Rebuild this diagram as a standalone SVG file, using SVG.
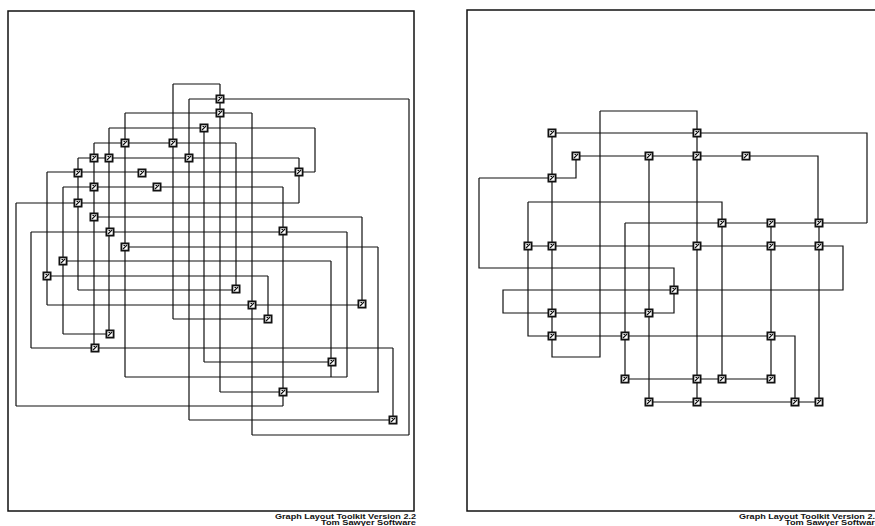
<svg xmlns="http://www.w3.org/2000/svg" width="875" height="526" viewBox="0 0 875 526">
<style>
.frame{fill:none;stroke:#111;stroke-width:1.5}
.conn{fill:none;stroke:#111;stroke-width:1.2}
.lbl{font-family:"Liberation Sans",Arial,sans-serif;font-weight:bold;font-size:7px;fill:#111}
</style>
<defs>
<g id="nd">
<rect x="-4.5" y="-4.5" width="9" height="9" fill="#111"/>
<rect x="-2.7" y="-2.7" width="5.4" height="5.4" fill="#fff"/>
<path d="M-2 2L2-2M-1.5-1.5h1.5" stroke="#111" stroke-width="1.1" fill="none"/>
</g>
</defs>
<rect width="875" height="526" fill="#fff"/>
<rect class="frame" x="8" y="11" width="406" height="500"/>
<rect class="frame" x="467" y="10" width="420" height="501"/>
<text class="lbl" x="275" y="518.5" textLength="141" lengthAdjust="spacingAndGlyphs">Graph Layout Toolkit Version 2.2</text>
<text class="lbl" x="321" y="524.5" textLength="95" lengthAdjust="spacingAndGlyphs">Tom Sawyer Software</text>
<text class="lbl" x="739" y="518.5" textLength="141" lengthAdjust="spacingAndGlyphs">Graph Layout Toolkit Version 2.2</text>
<text class="lbl" x="785" y="524.5" textLength="95" lengthAdjust="spacingAndGlyphs">Tom Sawyer Software</text>
<g id="connectors">
<path class="conn" d="M173 84H220M189 99H409M125 113H252M109 128H315M94 143H236M78 158H299M47 172H315M63 187H283M16 203H299M94 217H362M31 232H347M125 247H378M63 261H331M47 276H268M78 290H236M47 305H362M173 319H268M63 334H110M31 348H393M204 362H332M125 377H347M220 392H379M16 406H283M189 420H393M252 435H409"/>
<path class="conn" d="M16 203V406M31 232V348M47 172V305M63 187V334M78 158V290M94 143V348M109 128V334M125 113V377M173 84V319M189 99V420M204 128V362M220 84V392M236 143V289M252 113V435M268 276V319M283 187V406M299 158V203M315 128V172M331 261V377M347 232V377M362 217V305M378 247V392M393 348V420M409 99V435"/>
<path class="conn" d="M600 111H697V133M552 133H867V223M576 156H818V223M479 178H576V156M479 178V268H674V313H503V290H843V246H528M552 133V357H600V111M528 202H722V379M528 202V336H795V402M625 223H867M625 223V379M649 156V402M697 133V402M771 223V379M819 223V402M625 379H770M649 402H818"/>
</g>
<g id="left-nodes">
<g id="n1"><use href="#nd" x="220" y="99"/></g>
<g id="n2"><use href="#nd" x="220" y="113"/></g>
<g id="n3"><use href="#nd" x="204" y="128"/></g>
<g id="n4"><use href="#nd" x="125" y="143"/></g>
<g id="n5"><use href="#nd" x="173" y="143"/></g>
<g id="n6"><use href="#nd" x="94" y="158"/></g>
<g id="n7"><use href="#nd" x="109" y="158"/></g>
<g id="n8"><use href="#nd" x="189" y="158"/></g>
<g id="n9"><use href="#nd" x="78" y="173"/></g>
<g id="n10"><use href="#nd" x="142" y="173"/></g>
<g id="n11"><use href="#nd" x="299" y="172"/></g>
<g id="n12"><use href="#nd" x="94" y="187"/></g>
<g id="n13"><use href="#nd" x="157" y="187"/></g>
<g id="n14"><use href="#nd" x="78" y="203"/></g>
<g id="n15"><use href="#nd" x="94" y="217"/></g>
<g id="n16"><use href="#nd" x="110" y="232"/></g>
<g id="n17"><use href="#nd" x="125" y="247"/></g>
<g id="n18"><use href="#nd" x="283" y="231"/></g>
<g id="n19"><use href="#nd" x="63" y="261"/></g>
<g id="n20"><use href="#nd" x="47" y="276"/></g>
<g id="n21"><use href="#nd" x="236" y="289"/></g>
<g id="n22"><use href="#nd" x="252" y="305"/></g>
<g id="n23"><use href="#nd" x="362" y="304"/></g>
<g id="n24"><use href="#nd" x="268" y="319"/></g>
<g id="n25"><use href="#nd" x="110" y="334"/></g>
<g id="n26"><use href="#nd" x="95" y="348"/></g>
<g id="n27"><use href="#nd" x="332" y="362"/></g>
<g id="n28"><use href="#nd" x="283" y="392"/></g>
<g id="n29"><use href="#nd" x="393" y="420"/></g>
</g>
<g id="right-nodes">
<g id="r1"><use href="#nd" x="552" y="133"/></g>
<g id="r2"><use href="#nd" x="697" y="133"/></g>
<g id="r3"><use href="#nd" x="576" y="156"/></g>
<g id="r4"><use href="#nd" x="649" y="156"/></g>
<g id="r5"><use href="#nd" x="697" y="156"/></g>
<g id="r6"><use href="#nd" x="746" y="156"/></g>
<g id="r7"><use href="#nd" x="552" y="178"/></g>
<g id="r8"><use href="#nd" x="722" y="223"/></g>
<g id="r9"><use href="#nd" x="771" y="223"/></g>
<g id="r10"><use href="#nd" x="819" y="223"/></g>
<g id="r11"><use href="#nd" x="528" y="246"/></g>
<g id="r12"><use href="#nd" x="552" y="246"/></g>
<g id="r13"><use href="#nd" x="697" y="246"/></g>
<g id="r14"><use href="#nd" x="771" y="246"/></g>
<g id="r15"><use href="#nd" x="819" y="246"/></g>
<g id="r16"><use href="#nd" x="674" y="290"/></g>
<g id="r17"><use href="#nd" x="552" y="313"/></g>
<g id="r18"><use href="#nd" x="649" y="313"/></g>
<g id="r19"><use href="#nd" x="552" y="336"/></g>
<g id="r20"><use href="#nd" x="625" y="336"/></g>
<g id="r21"><use href="#nd" x="771" y="336"/></g>
<g id="r22"><use href="#nd" x="625" y="379"/></g>
<g id="r23"><use href="#nd" x="697" y="379"/></g>
<g id="r24"><use href="#nd" x="722" y="379"/></g>
<g id="r25"><use href="#nd" x="771" y="379"/></g>
<g id="r26"><use href="#nd" x="649" y="402"/></g>
<g id="r27"><use href="#nd" x="697" y="402"/></g>
<g id="r28"><use href="#nd" x="795" y="402"/></g>
<g id="r29"><use href="#nd" x="819" y="402"/></g>
</g>
</svg>
